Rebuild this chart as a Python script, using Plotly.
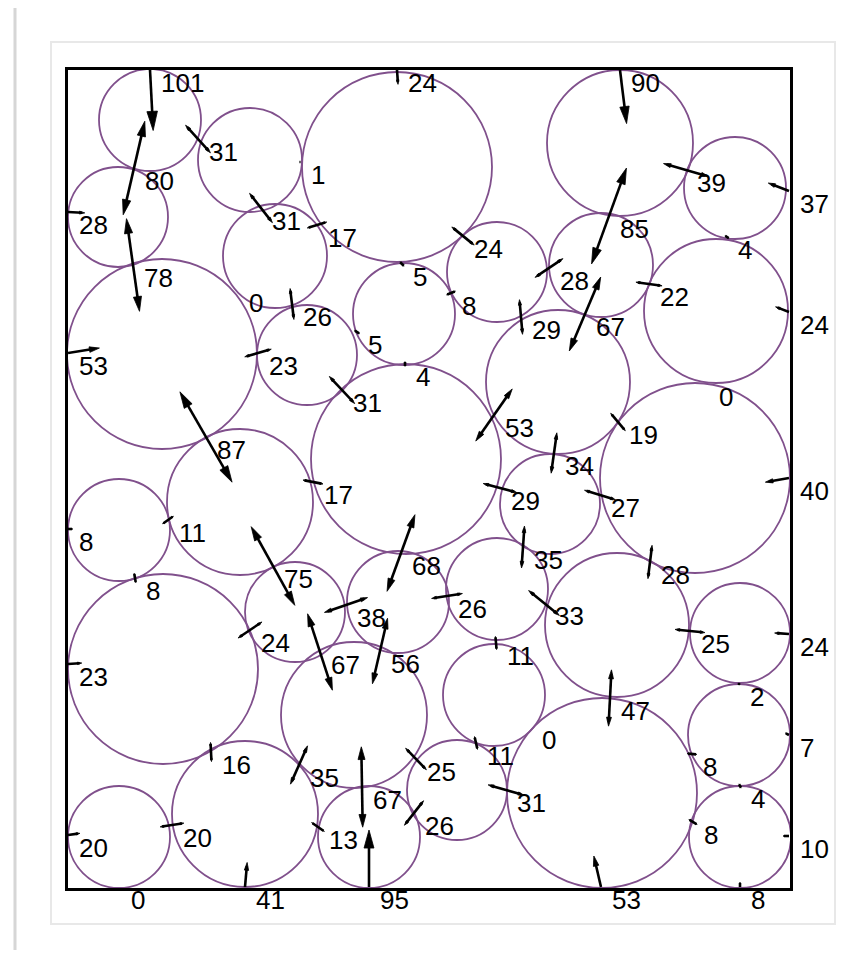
import math
import plotly.graph_objects as go

# ---------------- data (pixel-like data units, y grows downward) ----------------
circle_x = [150, 118, 250, 397, 275, 162, 307, 404, 497, 601, 620, 735, 716, 558, 695, 406, 240,
            119, 163, 550, 295, 398, 497, 617, 740, 494, 354, 602, 739, 740, 457, 369, 245, 119]
circle_y = [120, 217, 160, 167, 256, 354, 355, 314, 272, 265, 143, 188, 311, 382, 478, 459, 502,
            530, 669, 504, 612, 602, 589, 625, 633, 695, 715, 793, 735, 837, 790, 837, 814, 837]
circle_r = [51, 50, 52, 95, 52, 95, 50, 51, 50, 52, 73, 51, 72, 72, 95, 95, 73,
            51, 95, 50, 50, 51, 51, 72, 50, 51, 73, 95, 51, 51, 50, 51, 73, 51]

# contact points, force direction (deg, screen coords), force magnitude, wall contact flag
contact_x = [150, 397, 620, 68, 68, 68, 68, 68, 789, 789, 789, 789, 789, 789,
             120, 245, 369, 601, 740,
             134, 198, 300, 261, 317, 463, 402, 133, 238, 292, 258, 357, 451, 549, 609, 686,
             727, 649, 521, 585, 405, 342, 494, 618, 206, 554, 313, 500, 600, 168, 135, 401,
             523, 650, 273, 250, 346, 447, 544, 690, 496, 320, 380, 739, 610, 211, 299, 416,
             476, 531, 692, 362, 506, 740, 414, 172, 318, 693, 708]
contact_y = [70, 70, 70, 212, 353, 529, 664, 835, 191, 312, 478, 634, 735, 836,
             887, 887, 887, 887, 887,
             168, 139, 162, 208, 225, 236, 264, 265, 290, 304, 353, 332, 293, 268, 216, 170,
             237, 284, 317, 314, 364, 390, 415, 422, 437, 453, 482, 488, 495, 520, 578, 553,
             547, 562, 566, 630, 605, 596, 603, 631, 643, 652, 651, 684, 698, 752, 765, 759,
             743, 727, 754, 787, 790, 786, 813, 825, 827, 822, 384]
force_angle = [87, 86, 83, 3, -9, 0, -4, -8, 201, 201, 170, 184, 207, 180,
               -90, -85, -90, -103, -90,
               103, 48, 0, 52, -17, 39, 45, 82, 0, 83, -16, 33, -22, -34, 110, 16,
               30, 8, 85, 113, 90, 47, -55, 50, 60, 98, 11, 15, 17, -35, 80, 110,
               94, 97, 61, -34, -19, -9, 39, 6, 85, 72, 103, 90, 93, 87, -66, 46,
               77, 0, 5, 89, 16, 60, -52, -9, 35, 31, 0]
force_value = [101, 24, 90, 28, 53, 8, 23, 20, 37, 24, 40, 24, 7, 10,
               0, 41, 95, 53, 8,
               80, 31, 1, 31, 17, 24, 5, 78, 0, 26, 23, 5, 8, 28, 85, 39,
               4, 22, 29, 67, 4, 31, 53, 19, 87, 34, 17, 29, 27, 11, 8, 68,
               35, 28, 75, 24, 38, 26, 33, 25, 11, 67, 56, 2, 47, 16, 35, 25,
               11, 0, 8, 67, 31, 4, 26, 20, 13, 8, 0]
is_wall = [True] * 19 + [False] * 59

# ---------------- styles ----------------
PAGE_OFF = 8            # default body margin of the html page
W, H = 856 - 2 * PAGE_OFF, 958 - 2 * PAGE_OFF
X0, X1, Y0, Y1 = 68, 790, 70, 888     # frame in page pixels == data range
LEN_PER_UNIT = 0.6
HEAD_PER_UNIT = 0.19
HEAD_WIDTH_RATIO = 0.55
CIRCLE_COLOR = "#80508c"

fig = go.Figure()

shapes = []
for cx, cy, r in zip(circle_x, circle_y, circle_r):
    shapes.append(dict(type="circle", xref="x", yref="y", x0=cx - r, x1=cx + r, y0=cy - r, y1=cy + r,
                       line=dict(color=CIRCLE_COLOR, width=1.8), layer="below"))


def px(v):
    return (v - X0) / (X1 - X0)


def py(v):
    return (Y1 - v) / (Y1 - Y0)


# card + page decoration
shapes.append(dict(type="rect", xref="paper", yref="paper", x0=px(51), x1=px(835), y0=py(42), y1=py(924),
                   line=dict(color="#e8e8e8", width=2), fillcolor="rgba(0,0,0,0)", layer="below"))
shapes.append(dict(type="line", xref="paper", yref="paper", x0=px(15), x1=px(15), y0=py(8), y1=py(950),
                   line=dict(color="#d6d6d6", width=3), layer="below"))

line_x, line_y, head_x, head_y = [], [], [], []


def add_head(tx, ty, ux, uy, L):
    bx, by = tx - L * ux, ty - L * uy
    hw = L * HEAD_WIDTH_RATIO / 2
    head_x.extend([tx, bx - hw * uy, bx + hw * uy, tx, None])
    head_y.extend([ty, by + hw * ux, by - hw * ux, ty, None])


for cx, cy, ang, f, wall in zip(contact_x, contact_y, force_angle, force_value, is_wall):
    if f <= 0:
        continue
    ux, uy = math.cos(math.radians(ang)), math.sin(math.radians(ang))
    half = LEN_PER_UNIT * f
    L = HEAD_PER_UNIT * f
    back = 0.5 * L
    if wall:
        tx, ty = cx + half * ux, cy + half * uy
        line_x.extend([cx, tx - back * ux, None])
        line_y.extend([cy, ty - back * uy, None])
        add_head(tx, ty, ux, uy, L)
    else:
        ax_, ay_ = cx - half * ux, cy - half * uy
        bx_, by_ = cx + half * ux, cy + half * uy
        line_x.extend([ax_ + back * ux, bx_ - back * ux, None])
        line_y.extend([ay_ + back * uy, by_ - back * uy, None])
        add_head(bx_, by_, ux, uy, L)
        add_head(ax_, ay_, -ux, -uy, L)

fig.add_trace(go.Scatter(x=line_x, y=line_y, mode="lines", line=dict(color="black", width=2.6),
                         hoverinfo="skip", cliponaxis=False))
fig.add_trace(go.Scatter(x=head_x, y=head_y, mode="lines", fill="toself", fillcolor="black",
                         line=dict(color="black", width=0.8), hoverinfo="skip", cliponaxis=False))

annotations = []
for cx, cy, f in zip(contact_x, contact_y, force_value):
    annotations.append(dict(x=cx, y=cy, xref="x", yref="y", text=str(f), showarrow=False,
                            xanchor="left", yanchor="middle", xshift=9, yshift=-13,
                            font=dict(family="Liberation Sans, Arial, sans-serif", size=26, color="black")))

fig.update_layout(
    width=W, height=H,
    margin=dict(l=X0 - PAGE_OFF, r=W - (X1 - PAGE_OFF), t=Y0 - PAGE_OFF, b=H - (Y1 - PAGE_OFF), pad=0),
    paper_bgcolor="white", plot_bgcolor="white",
    showlegend=False,
    shapes=shapes,
    annotations=annotations,
    xaxis=dict(range=[X0, X1], showgrid=False, zeroline=False, showticklabels=False, ticks="",
               showline=True, mirror=True, linecolor="black", linewidth=2.5),
    yaxis=dict(range=[Y1, Y0], showgrid=False, zeroline=False, showticklabels=False, ticks="",
               showline=True, mirror=True, linecolor="black", linewidth=2.5),
)

fig.write_html("out.html")
